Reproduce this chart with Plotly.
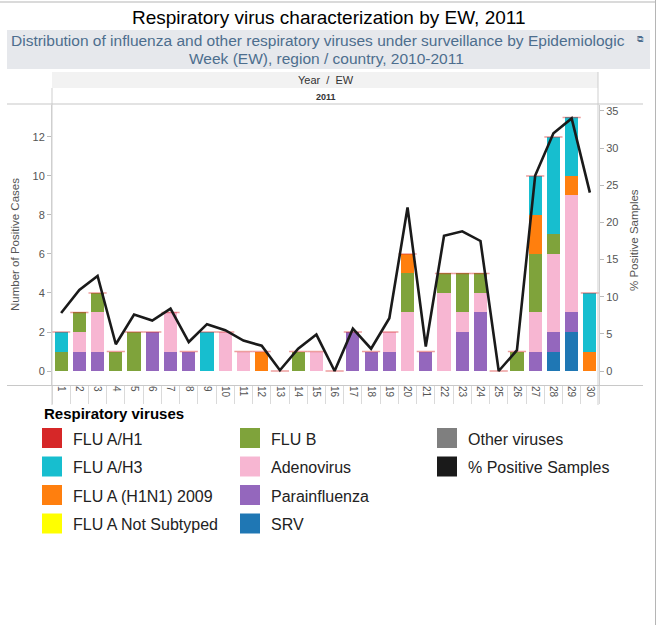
import plotly.graph_objects as go

# ---------------- data ----------------
weeks = list(range(1, 31))
week_labels = [str(w) for w in weeks]

srv          = [0,0,0,0,0,0,0,0,0,0, 0,0,0,0,0,0,0,0,0,0, 0,0,0,0,0,0,0,1,2,0]
parainfluenza= [0,1,1,0,0,2,1,1,0,0, 0,0,0,0,0,0,2,1,1,0, 1,0,2,3,0,0,1,1,1,0]
adenovirus   = [0,1,2,0,0,0,2,0,0,2, 1,0,0,0,1,0,0,0,1,3, 0,4,1,1,0,0,2,4,6,0]
flu_b        = [1,1,1,1,2,0,0,0,0,0, 0,0,0,1,0,0,0,0,0,2, 0,1,2,1,0,1,3,1,0,0]
flu_a_nst    = [0]*30
flu_h1n1_09  = [0,0,0,0,0,0,0,0,0,0, 0,1,0,0,0,0,0,0,0,1, 0,0,0,0,0,0,2,0,1,1]
flu_a_h3     = [1,0,0,0,0,0,0,0,2,0, 0,0,0,0,0,0,0,0,0,0, 0,0,0,0,0,0,2,5,3,3]
flu_a_h1     = [0]*30
other_virus  = [0]*30

pct_positive = [7.8,10.9,12.8,3.6,7.6,6.8,8.4,3.9,6.3,5.5,
                4.1,3.4,0.1,3.0,4.9,0.0,5.7,3.0,7.1,22.0,
                3.3,18.2,18.8,17.5,0.0,2.8,26.3,32.0,34.0,24.0]

legend_names = ["FLU A/H1","FLU A/H3","FLU A (H1N1) 2009","FLU A Not Subtyped",
                "FLU B","Adenovirus","Parainfluenza","SRV",
                "Other viruses","% Positive Samples"]
legend_colors = ["#d62728","#17becf","#ff7f0e","#ffff00",
                 "#7fa33b","#f7b6d2","#9467bd","#1f77b4",
                 "#7f7f7f","#1a1a1a"]
color = dict(zip(legend_names, legend_colors))

# stacking order bottom -> top
stack = [("Other viruses", other_virus), ("SRV", srv), ("Parainfluenza", parainfluenza),
         ("Adenovirus", adenovirus), ("FLU B", flu_b), ("FLU A Not Subtyped", flu_a_nst),
         ("FLU A (H1N1) 2009", flu_h1n1_09), ("FLU A/H3", flu_a_h3), ("FLU A/H1", flu_a_h1)]

totals = [sum(s[1][i] for s in stack) for i in range(30)]

# ---------------- layout geometry ----------------
W, H = 658, 625
L, R, T, B = 52, 599, 105, 385
pw, ph = R - L, B - T

def px(x):
    return (x - L) / pw

def py(y):
    return (B - y) / ph

FONT = "Arial, 'Liberation Sans', sans-serif"

fig = go.Figure()

for name, vals in stack:
    fig.add_trace(go.Bar(x=weeks, y=vals, name=name, marker_color=color[name],
                         marker_line_width=0, width=0.72, showlegend=False))

# thin top edge (Tableau draws zero-size FLU A/H1 mark on top of each bar)
fig.add_trace(go.Scatter(x=weeks, y=totals, mode="markers", showlegend=False,
                         hoverinfo="skip",
                         marker=dict(symbol="line-ew", size=13,
                                     line=dict(color="rgba(214,39,40,0.45)", width=1.5))))

fig.add_trace(go.Scatter(x=weeks, y=pct_positive, yaxis="y2", mode="lines",
                         name="% Positive Samples", showlegend=False,
                         line=dict(color="#1a1a1a", width=2.6)))

fig.update_layout(
    width=W, height=H,
    margin=dict(l=L, r=W - R, t=T, b=H - B, autoexpand=False),
    paper_bgcolor="white", plot_bgcolor="white",
    barmode="stack", bargap=0.28,
    font=dict(family=FONT, color="#555"),
    showlegend=False,
    xaxis=dict(range=[0.5, 30.5], tickvals=weeks, ticktext=week_labels,
               tickangle=90, ticks="", showgrid=False, zeroline=False,
               automargin=False,
               tickfont=dict(size=10, color="#555"), showline=False,
               minor=dict(ticks="outside", tick0=0.5, dtick=1, ticklen=18,
                          tickcolor="#dadada", tickwidth=1, showgrid=False)),
    yaxis=dict(range=[-0.718, 13.64], tickvals=[0,2,4,6,8,10,12],
               ticks="outside", ticklen=4, tickcolor="#bbb", automargin=False,
               showgrid=False, zeroline=False, showline=True, linecolor="#cfcfcf",
               tickfont=dict(size=11, color="#555")),
    yaxis2=dict(range=[-1.884, 35.8], tickvals=[0,5,10,15,20,25,30,35],
                overlaying="y", side="right", anchor="x", automargin=False,
                ticks="outside", ticklen=4, tickcolor="#bbb",
                showgrid=False, zeroline=False, showline=True, linecolor="#cfcfcf",
                tickfont=dict(size=11, color="#555")),
)

shapes = []
annots = []

def hline(x0, x1, y, c="#d0d0d0", w=1):
    shapes.append(dict(type="line", xref="paper", yref="paper", x0=px(x0), x1=px(x1),
                       y0=py(y), y1=py(y), line=dict(color=c, width=w), layer="above"))

def vline(x, y0, y1, c="#d0d0d0", w=1):
    shapes.append(dict(type="line", xref="paper", yref="paper", x0=px(x), x1=px(x),
                       y0=py(y0), y1=py(y1), line=dict(color=c, width=w), layer="above"))

def rect(x0, y0, x1, y1, fill, line=None):
    shapes.append(dict(type="rect", xref="paper", yref="paper", x0=px(x0), x1=px(x1),
                       y0=py(y1), y1=py(y0), fillcolor=fill,
                       line=dict(width=0 if line is None else 1, color=line or fill),
                       layer="above"))

def text(x, y, s, size=11, col="#333", xanchor="center", bold=False, angle=0):
    annots.append(dict(xref="paper", yref="paper", x=px(x), y=py(y),
                       text=("<b>%s</b>" % s) if bold else s, showarrow=False,
                       xanchor=xanchor, yanchor="middle", textangle=angle,
                       font=dict(size=size, color=col, family=FONT)))

# outer frame
hline(0, 656, 2, c="#b5b5b5")
vline(655.5, 0, 625, c="#b5b5b5")

# title + subtitle band
text(329, 17, "Respiratory virus characterization by EW, 2011", size=19, col="#000")
rect(7, 30, 650, 69, "#e6e8ec")
text(318, 41, "Distribution of influenza and other respiratory viruses under surveillance by Epidemiologic",
     size=15.5, col="#4d6e8e")
text(640, 39, "⧉", size=9, col="#4d6e8e")
text(326, 59, "Week (EW), region / country, 2010-2011", size=15.5, col="#4d6e8e")

# column header
rect(L, 72, R - 1, 88, "#f2f2f2")
text((L + R) / 2, 80, "Year  /  EW", size=11, col="#333")
text((L + R) / 2, 96.5, "2011", size=9, col="#333", bold=True)
vline(L, 88, 405, c="#cfcfcf")
vline(R - 1, 72, 405, c="#cfcfcf")
hline(7, 643, 104, c="#c8c8c8", w=1.2)
hline(7, 643, 385.5, c="#c8c8c8", w=1.2)

# axis titles
text(15, 245, "Number of Positive Cases", size=11.5, col="#555", angle=-90)
text(634, 240, "% Positive Samples", size=11.5, col="#555", angle=-90)

# legend
text(42, 413, "Respiratory viruses", size=15, col="#000", xanchor="left", bold=True)
cols_x = [42, 240, 437]
rows_y = [438, 466.5, 495, 523.5]
layout_pos = [(0,0),(0,1),(0,2),(0,3),(1,0),(1,1),(1,2),(1,3),(2,0),(2,1)]
for name, c, (ci, ri) in zip(legend_names, legend_colors, layout_pos):
    x0 = cols_x[ci]
    yc = rows_y[ri]
    rect(x0, yc - 10, x0 + 20, yc + 10, c)
    text(x0 + 29, yc + 1, name, size=16, col="#222", xanchor="left")

fig.update_layout(shapes=shapes, annotations=annots)
fig.write_html("out.html", config={"displayModeBar": False},
               post_script="document.body.style.margin='0';document.body.style.overflow='hidden';")
